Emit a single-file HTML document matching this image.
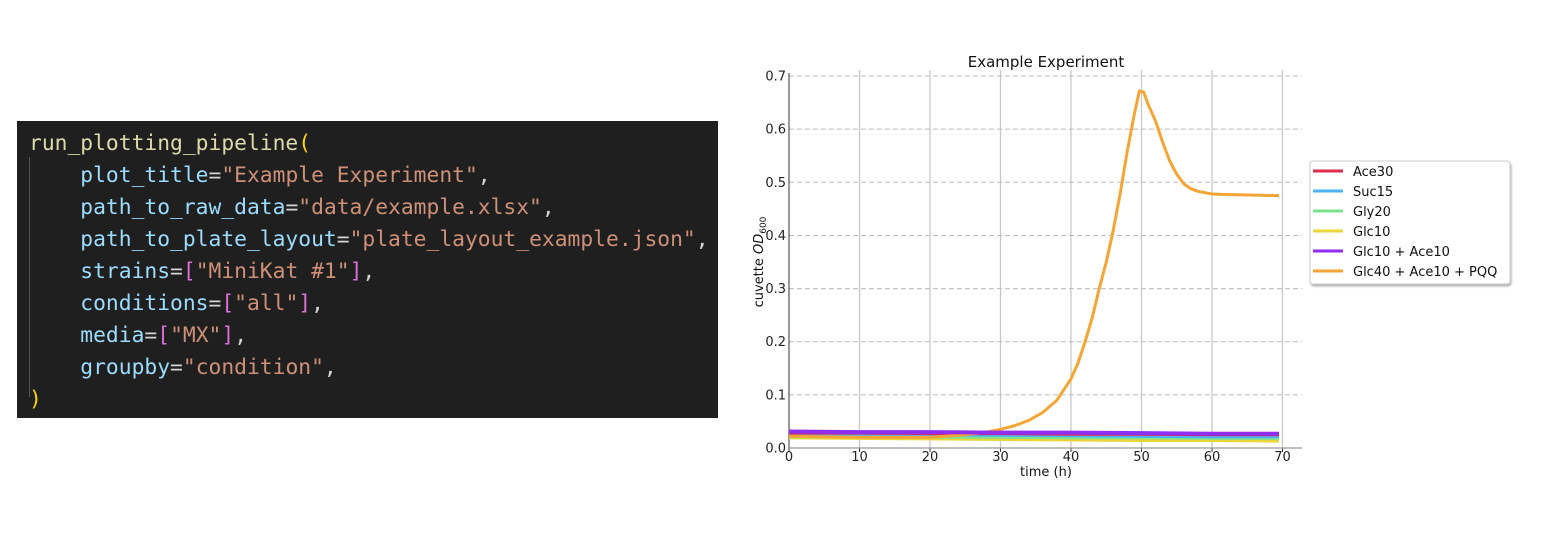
<!DOCTYPE html>
<html><head><meta charset="utf-8">
<style>
body{margin:0;background:#fff;width:1552px;height:544px;overflow:hidden;position:relative;font-family:"DejaVu Sans","Liberation Sans",sans-serif;}
#code{position:absolute;left:17px;top:121px;width:701px;height:297px;background:#1f1f1f;}
#code pre{margin:0;position:absolute;left:12px;top:7px;font-family:"DejaVu Sans Mono","Liberation Mono",monospace;font-size:21.3px;line-height:32px;color:#9cdcfe;}
.f{color:#dcdcaa}.s{color:#ce9178}.p{color:#ffd700}.b{color:#da70d6}.w{color:#d4d4d4}
#guide{position:absolute;width:1px;height:240px;background:#555;}
svg{position:absolute;left:0;top:0}
</style></head><body>
<div id="code">
<div id="guide" style="left:12px;top:36px"></div>
<pre><span class="f">run_plotting_pipeline</span><span class="p">(</span>
    plot_title<span class="w">=</span><span class="s">"Example Experiment"</span><span class="w">,</span>
    path_to_raw_data<span class="w">=</span><span class="s">"data/example.xlsx"</span><span class="w">,</span>
    path_to_plate_layout<span class="w">=</span><span class="s">"plate_layout_example.json"</span><span class="w">,</span>
    strains<span class="w">=</span><span class="b">[</span><span class="s">"MiniKat #1"</span><span class="b">]</span><span class="w">,</span>
    conditions<span class="w">=</span><span class="b">[</span><span class="s">"all"</span><span class="b">]</span><span class="w">,</span>
    media<span class="w">=</span><span class="b">[</span><span class="s">"MX"</span><span class="b">]</span><span class="w">,</span>
    groupby<span class="w">=</span><span class="s">"condition"</span><span class="w">,</span>
<span class="p">)</span></pre>
</div>
<svg id="chart" width="1552" height="544"></svg>
<script>
const xTicks=[0,10,20,30,40,50,60,70];
const yTicks=[0.0,0.1,0.2,0.3,0.4,0.5,0.6,0.7];
const seriesNames=["Ace30","Suc15","Gly20","Glc10","Glc10 + Ace10","Glc40 + Ace10 + PQQ"];
const seriesColors=["#dc2d4e","#4cb3f5","#7ae38c","#e8d63a","#8f2df0","#f5a535"];
const timesFlat=[0,10,20,30,40,50,60,69.5];
const ace30=[0.029,0.029,0.028,0.028,0.027,0.027,0.026,0.026];
const suc15=[0.027,0.027,0.026,0.025,0.024,0.023,0.022,0.022];
const gly20=[0.022,0.022,0.021,0.021,0.020,0.020,0.019,0.019];
const glc10=[0.020,0.019,0.018,0.017,0.016,0.015,0.015,0.014];
const glcAce=[0.031,0.030,0.030,0.029,0.029,0.028,0.027,0.027];
const timesPQQ=[0,10,20,25,28,30,32,34,36,38,40,41,42,43,44,45,46,47,48,49,49.7,50.3,51,52,53,54,55,56,57,58,60,62,66,69.5];
const pqq=[0.022,0.020,0.020,0.025,0.03,0.035,0.042,0.052,0.067,0.09,0.13,0.16,0.2,0.245,0.3,0.35,0.41,0.48,0.56,0.63,0.672,0.67,0.645,0.615,0.575,0.54,0.515,0.497,0.488,0.483,0.478,0.477,0.476,0.475];
const allSeries=[ace30,suc15,gly20,glc10,glcAce];

const NS="http://www.w3.org/2000/svg";
const svg=document.getElementById('chart');
const X=v=>789+v*7.05;
const Y=v=>448-v*531.4;
function mk(t,a,p){const e=document.createElementNS(NS,t);for(const k in a)e.setAttribute(k,a[k]);(p||svg).appendChild(e);return e;}
xTicks.forEach(t=>{if(t>0){const g=mk('line',{x1:X(t),x2:X(t),y1:70,y2:448,stroke:'#c8c8c8','stroke-width':1.3});

}
const tk=mk('line',{x1:X(t),x2:X(t),y1:448,y2:452,stroke:'#333'});


const l=mk('text',{x:X(t),y:461,'text-anchor':'middle','font-size':13,fill:'#222'});l.textContent=t;

});
yTicks.forEach(t=>{if(t>0){const g=mk('line',{x1:789,x2:1302,y1:Y(t),y2:Y(t),stroke:'#bbb','stroke-width':1,'stroke-dasharray':'5,3'});

}
const l=mk('text',{x:786,y:Y(t)+4.5,'text-anchor':'end','font-size':13,fill:'#222'});l.textContent=t.toFixed(1);

});
const sp1=mk('line',{x1:789,x2:789,y1:73,y2:448,stroke:'#333','stroke-width':1});


const sp2=mk('line',{x1:789,x2:1302,y1:448,y2:448,stroke:'#999','stroke-width':1.3});


function path(xs,ys,c,n){const d=xs.map((x,i)=>(i?'L':'M')+X(x).toFixed(1)+','+Y(ys[i]).toFixed(1)).join('');
const p=mk('path',{d:d,fill:'none',stroke:c,'stroke-width':n==5?3:4,'stroke-linejoin':'round'});

}
[3,2,1,0].forEach(i=>path(timesFlat,allSeries[i],seriesColors[i],i));
path(timesPQQ,pqq,seriesColors[5],5);
path(timesFlat,allSeries[4],seriesColors[4],4);
const ti=mk('text',{x:1046,y:67,'text-anchor':'middle','font-size':15,fill:'#111'});ti.textContent='Example Experiment';


const xl=mk('text',{x:1046,y:476,'text-anchor':'middle','font-size':13,fill:'#111'});xl.textContent='time (h)';


const yl=mk('text',{transform:'translate(763,262) rotate(-90)','text-anchor':'middle','font-size':13,fill:'#111'});
yl.innerHTML='cuvette <tspan font-style="italic">OD</tspan><tspan font-size="9" dy="3">600</tspan>';


const lb=mk('rect',{x:1310,y:161,width:200,height:123,rx:3,fill:'#fff',stroke:'#ccc','stroke-width':1,filter:'drop-shadow(1px 2px 1px rgba(0,0,0,0.3))'});


seriesNames.forEach((n,i)=>{const y=171+i*20;
const ln=mk('line',{x1:1313,x2:1343,y1:y,y2:y,stroke:seriesColors[i],'stroke-width':3});


const t=mk('text',{x:1353,y:y+5,'font-size':13,fill:'#111'});t.textContent=n;

});
</script>
</body></html>
